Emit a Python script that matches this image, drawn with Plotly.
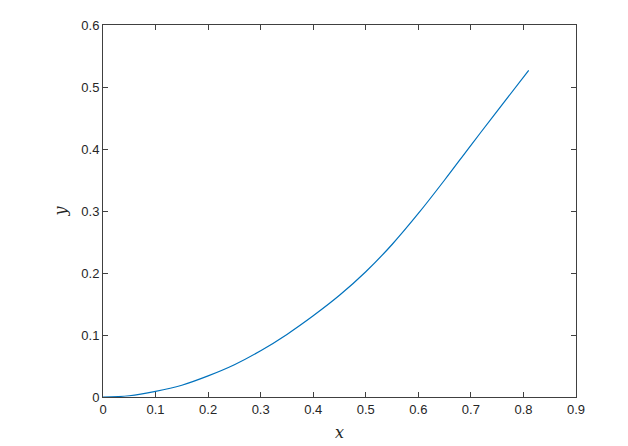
import plotly.graph_objects as go

x_vals = [0.0, 0.05, 0.1, 0.15, 0.2, 0.25, 0.3, 0.35, 0.4, 0.45, 0.5, 0.55, 0.6, 0.65, 0.7, 0.75, 0.81]
y_vals = [0.0, 0.002, 0.009, 0.019, 0.034, 0.052, 0.0746, 0.101, 0.131, 0.164, 0.202, 0.246, 0.296, 0.350, 0.406, 0.461, 0.527]

x_ticks = [0, 0.1, 0.2, 0.3, 0.4, 0.5, 0.6, 0.7, 0.8, 0.9]
x_tick_labels = ["0", "0.1", "0.2", "0.3", "0.4", "0.5", "0.6", "0.7", "0.8", "0.9"]
y_ticks = [0, 0.1, 0.2, 0.3, 0.4, 0.5, 0.6]
y_tick_labels = ["0", "0.1", "0.2", "0.3", "0.4", "0.5", "0.6"]

fig = go.Figure()
fig.add_trace(go.Scatter(x=x_vals, y=y_vals, mode="lines",
                         line=dict(color="#0072BD", width=1.2, shape="spline", smoothing=1.0),
                         showlegend=False))

axis_common = dict(showline=True, linecolor="#404040", linewidth=1, mirror="ticks",
                   ticks="inside", ticklen=5, tickcolor="#404040", tickwidth=1,
                   showgrid=False, zeroline=False, automargin=False,
                   tickfont=dict(family="Liberation Sans, Arial", size=13, color="#262626"))

fig.update_layout(
    width=628, height=446,
    margin=dict(l=103, r=52, t=25, b=49),
    paper_bgcolor="white", plot_bgcolor="white",
    xaxis=dict(range=[0, 0.9], tickvals=x_ticks, ticktext=x_tick_labels,
               title=dict(text="<i>x</i>", font=dict(family="DejaVu Serif", size=16, color="#262626"), standoff=11),
               **axis_common),
    yaxis=dict(range=[0, 0.6], tickvals=y_ticks, ticktext=y_tick_labels,
               title=dict(text="<i>y</i>", font=dict(family="DejaVu Serif", size=16, color="#262626"), standoff=10),
               **axis_common),
)

fig.write_html("out.html", config={"displayModeBar": False},
               post_script="document.body.style.margin='0';document.body.style.overflow='hidden';")
